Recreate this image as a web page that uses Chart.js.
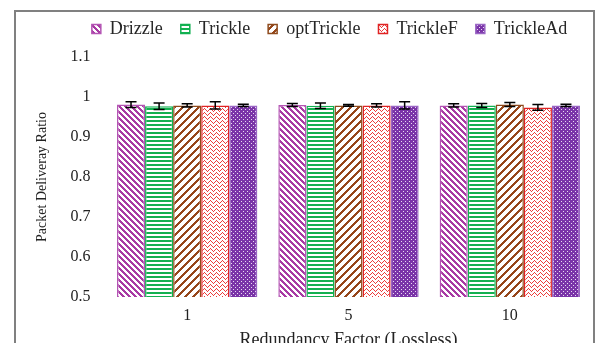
<!DOCTYPE html>
<html>
<head>
<meta charset="utf-8">
<script src="https://cdn.jsdelivr.net/npm/chart.js@4/dist/chart.umd.min.js"></script>
<style>
  html, body { margin: 0; padding: 0; background: #fff; overflow: hidden; }
  #wrap { position: relative; width: 595px; height: 350px; }
  #frame { position: absolute; left: 14px; top: 10px; width: 577px; height: 400px;
           border-left: 2px solid #808080; border-top: 2px solid #808080; border-right: 2px solid #808080;
           pointer-events: none; }
</style>
</head>
<body>
<div id="wrap">
  <canvas id="c" width="595" height="350"></canvas>
  <div id="frame"></div>
</div>
<script>
// ---- data ----
const categories = ['1', '5', '10'];
const seriesNames = ['Drizzle', 'Trickle', 'optTrickle', 'TrickleF', 'TrickleAd'];
const drizzle    = [0.981, 0.980, 0.979];
const trickle    = [0.977, 0.978, 0.979];
const optTrickle = [0.979, 0.979, 0.981];
const trickleF   = [0.979, 0.979, 0.974];
const trickleAd  = [0.979, 0.979, 0.979];
const drizzleErr    = [0.007, 0.004, 0.004];
const trickleErr    = [0.008, 0.007, 0.005];
const optTrickleErr = [0.004, 0.002, 0.005];
const trickleFErr   = [0.009, 0.004, 0.007];
const trickleAdErr  = [0.003, 0.009, 0.003];
const yTickValues = [0.5, 0.6, 0.7, 0.8, 0.9, 1.0, 1.1];

const values = [drizzle, trickle, optTrickle, trickleF, trickleAd];
const errors = [drizzleErr, trickleErr, optTrickleErr, trickleFErr, trickleAdErr];

// ---- patterns ----
function pattern(w, h, bg, fg, test) {
  const c = document.createElement('canvas');
  c.width = w; c.height = h;
  const g = c.getContext('2d');
  g.fillStyle = bg; g.fillRect(0, 0, w, h);
  g.fillStyle = fg;
  for (let x = 0; x < w; x++) for (let y = 0; y < h; y++) if (test(x, y)) g.fillRect(x, y, 1, 1);
  return g.createPattern(c, 'repeat');
}
const zig = [0, 1, 2, 3, 2, 1];
const fills = [
  pattern(6, 6, '#ffffff', '#a83aa4', (x, y) => ((x - y + 12) % 6) < 3),
  pattern(4, 4, '#ffffff', '#14b050', (x, y) => y < 2),
  pattern(8, 8, '#ffffff', '#96461a', (x, y) => ((x + y) % 8) < 3),
  pattern(6, 4, '#ffffff', '#ec3c3c', (x, y) => zig[x] === y),
  pattern(4, 4, '#7a34a8', '#e8dcf0', (x, y) => (x === 1 && y === 1) || (x === 3 && y === 3))
];
const borders = ['#b455b4', '#10b050', '#8e4a1c', '#e02424', '#9a66c4'];

const errorBars = {
  id: 'errorBars',
  afterDatasetsDraw(chart) {
    const ctx = chart.ctx, ys = chart.scales.y;
    ctx.save();
    ctx.strokeStyle = '#000';
    ctx.lineWidth = 1.5;
    chart.data.datasets.forEach((ds, di) => {
      const meta = chart.getDatasetMeta(di);
      meta.data.forEach((bar, i) => {
        const v = ds.data[i], e = errors[di][i];
        const yt = ys.getPixelForValue(v + e), yb = ys.getPixelForValue(v - e);
        const x = bar.x, hw = 5.5;
        ctx.beginPath();
        ctx.moveTo(x, yt); ctx.lineTo(x, yb);
        ctx.moveTo(x - hw, yt); ctx.lineTo(x + hw, yt);
        ctx.moveTo(x - hw, yb); ctx.lineTo(x + hw, yb);
        ctx.stroke();
      });
    });
    ctx.restore();
  }
};

const legendTweak = {
  id: 'legendTweak',
  beforeLayout(chart) {
    const lg = chart.legend;
    if (lg && !lg._patched) {
      const f = lg.fit.bind(lg);
      lg.fit = function () { f(); this.height += 9; };
      lg._patched = true;
    }
  },
  afterLayout(chart) {
    const lg = chart.legend;
    if (lg) { const d = 329.5 - (lg.left + lg.right) / 2; lg.left += d; lg.right += d; }
  }
};

const serif = "'Liberation Serif', 'Times New Roman', serif";

new Chart(document.getElementById('c'), {
  type: 'bar',
  data: {
    labels: categories,
    datasets: seriesNames.map((n, i) => ({
      label: n,
      data: values[i],
      backgroundColor: fills[i],
      borderColor: borders[i],
      borderWidth: 1.5,
      categoryPercentage: 0.87,
      barPercentage: 1.0
    }))
  },
  options: {
    responsive: false,
    animation: false,
    events: [],
    layout: { padding: { left: 30, right: 4.5, top: 2, bottom: 2.2 } },
    plugins: {
      legend: {
        position: 'top',
        labels: {
          boxWidth: 9, boxHeight: 9, padding: 18,
          color: '#262626',
          font: { family: serif, size: 18 }
        }
      },
      tooltip: { enabled: false }
    },
    scales: {
      x: {
        grid: { display: false, drawTicks: false },
        border: { display: false },
        ticks: { color: '#222', padding: 9, font: { family: serif, size: 16 } },
        title: { display: true, text: 'Redundancy Factor (Lossless)', color: '#222',
                 padding: { top: -5, bottom: -3 }, font: { family: serif, size: 18 } }
      },
      y: {
        min: 0.5, max: 1.1,
        grid: { display: false, drawTicks: false },
        border: { display: false },
        afterBuildTicks(axis) { axis.ticks = yTickValues.map(v => ({ value: v })); },
        ticks: { color: '#222', padding: 16, font: { family: serif, size: 16 },
                 callback: v => String(Math.round(v * 10) / 10) },
        title: { display: true, text: 'Packet Deliveray Ratio', color: '#222',
                 padding: { top: 3.6, bottom: 4.1 }, font: { family: serif, size: 14 } }
      }
    }
  },
  plugins: [errorBars, legendTweak]
});
</script>
</body>
</html>
